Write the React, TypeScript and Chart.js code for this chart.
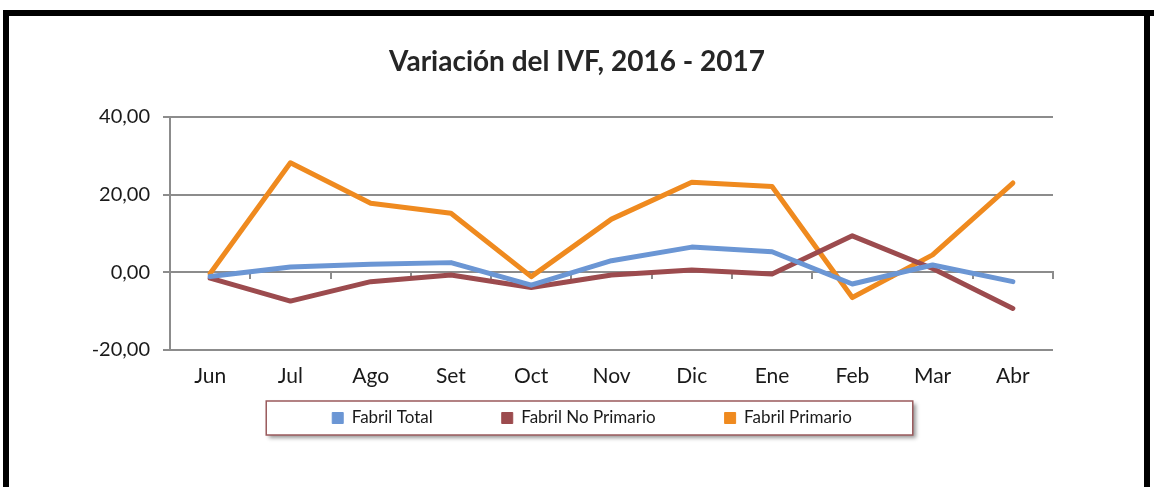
import React, { useEffect, useRef } from 'react';
import { Chart, registerables } from 'chart.js';

Chart.register(...registerables);

// ---- data ----
const categories = ['Jun', 'Jul', 'Ago', 'Set', 'Oct', 'Nov', 'Dic', 'Ene', 'Feb', 'Mar', 'Abr'];
const seriesNames = ['Fabril Total', 'Fabril No Primario', 'Fabril Primario'];
const fabrilTotal = [-1.1, 1.4, 2.1, 2.5, -3.3, 3.0, 6.5, 5.3, -3.0, 1.9, -2.4];
const fabrilNoPrimario = [-1.5, -7.4, -2.4, -0.7, -3.9, -0.7, 0.6, -0.4, 9.4, 1.0, -9.3];
const fabrilPrimario = [-0.3, 28.2, 17.8, 15.2, -1.1, 13.7, 23.2, 22.1, -6.5, 4.5, 23.0];
const yMin = -20;
const yMax = 40;
const yStep = 20;
const titleText = 'Variación del IVF, 2016 - 2017';

// ---- styles ----
const seriesColors = ['#6b96d4', '#9c4b4e', '#ef8a1f'];
const gridColor = '#8c8c8c';
const FONT = 'Lato, "Open Sans", sans-serif';
const LEGEND_FONT_SIZE = 17;
const LEGEND_PAD = 69;

const legendFrame = {
  id: 'legendFrame',
  afterLayout(chart: any) {
    const lg = chart.legend;
    if (!lg) return;
    const dy = 418 - (lg.top + LEGEND_PAD + LEGEND_FONT_SIZE / 2);
    const dx = 15;
    lg.top += dy;
    lg.bottom += dy;
    lg.left += dx;
    lg.right += dx;
  },
  beforeDraw(chart: any) {
    const lg = chart.legend;
    if (!lg || !lg.legendHitBoxes || !lg.legendHitBoxes.length) return;
    const hb = lg.legendHitBoxes;
    const first = hb[0];
    const last = hb[hb.length - 1];
    const mid = first.top + first.height / 2;
    const l = first.left - 66;
    const r = last.left + last.width + 61;
    const t = mid - 17;
    const b = mid + 17;
    const ctx = chart.ctx;
    ctx.save();
    ctx.shadowColor = 'rgba(0,0,0,0.4)';
    ctx.shadowOffsetX = 3;
    ctx.shadowOffsetY = 3;
    ctx.shadowBlur = 4;
    ctx.fillStyle = '#ffffff';
    ctx.fillRect(l, t, r - l, b - t);
    ctx.shadowColor = 'transparent';
    ctx.strokeStyle = '#9a5a5c';
    ctx.lineWidth = 1.5;
    ctx.strokeRect(l, t, r - l, b - t);
    ctx.restore();
  },
};

export default function App() {
  const canvasRef = useRef<HTMLCanvasElement | null>(null);

  useEffect(() => {
    document.body.style.margin = '0';
    const canvas = canvasRef.current;
    if (!canvas) return;
    const seriesData = [fabrilTotal, fabrilNoPrimario, fabrilPrimario];
    const chart = new Chart(canvas, {
      type: 'line',
      data: {
        labels: categories,
        datasets: seriesNames.map((name, i) => ({
          label: name,
          data: seriesData[i],
          borderColor: seriesColors[i],
          backgroundColor: seriesColors[i],
          borderWidth: 5,
          pointRadius: 0,
          pointHoverRadius: 0,
          tension: 0,
          fill: false,
          borderJoinStyle: 'round' as const,
          borderCapStyle: 'round' as const,
          xAxisID: 'x',
          yAxisID: 'y',
        })),
      },
      options: {
        responsive: false,
        animation: false,
        layout: { padding: 0 },
        plugins: {
          title: {
            display: true,
            text: titleText,
            color: '#262626',
            font: { family: FONT, size: 28, weight: 'bold', lineHeight: 1.2 },
            padding: { top: 45, bottom: 38.4 },
          },
          legend: {
            display: true,
            position: 'bottom',
            labels: {
              color: '#1a1a1a',
              font: { family: FONT, size: LEGEND_FONT_SIZE },
              boxWidth: 11,
              boxHeight: 11,
              padding: LEGEND_PAD,
              generateLabels: (ch: any) =>
                ch.data.datasets.map((ds: any, i: number) => ({
                  text: ds.label,
                  fillStyle: seriesColors[i],
                  strokeStyle: seriesColors[i],
                  lineWidth: 1,
                  hidden: false,
                  datasetIndex: i,
                  fontColor: '#1a1a1a',
                })),
            },
          },
          tooltip: { enabled: false },
        },
        scales: {
          x: {
            type: 'category',
            position: 'bottom',
            offset: true,
            grid: { display: false, drawTicks: false },
            border: { display: false },
            ticks: {
              color: '#1a1a1a',
              font: { family: FONT, size: 21 },
              padding: 14,
              maxRotation: 0,
              autoSkip: false,
            },
            afterFit: (s: any) => {
              s.height = 137 - (Math.max(11, LEGEND_FONT_SIZE) + LEGEND_PAD + 10);
            },
          },
          x2: {
            type: 'category',
            labels: categories,
            position: { y: 0 },
            offset: true,
            grid: {
              display: true,
              offset: true,
              drawOnChartArea: false,
              drawTicks: true,
              tickLength: 6,
              color: gridColor,
              lineWidth: 2,
            },
            border: { display: true, color: gridColor, width: 2 },
            ticks: { display: false },
          },
          y: {
            type: 'linear',
            position: 'left',
            min: yMin,
            max: yMax,
            grid: {
              color: gridColor,
              lineWidth: 2,
              drawTicks: true,
              tickLength: 7,
            },
            border: { display: true, color: gridColor, width: 2 },
            ticks: {
              stepSize: yStep,
              color: '#1a1a1a',
              font: { family: FONT, size: 20 },
              padding: 13,
              callback: (v: any) => Number(v).toFixed(2).replace('.', ','),
            },
            afterFit: (s: any) => {
              s.width = 170;
            },
          },
          yRight: {
            type: 'linear',
            position: 'right',
            display: true,
            grid: { display: false, drawTicks: false },
            border: { display: false },
            ticks: { display: false },
            afterFit: (s: any) => {
              s.width = 101;
            },
          },
        },
      } as any,
      plugins: [legendFrame],
    });
    return () => chart.destroy();
  }, []);

  return (
    <div style={{ position: 'absolute', left: 0, top: 0, width: 1154, height: 487, background: '#fff', overflow: 'hidden' }}>
      <canvas ref={canvasRef} width={1154} height={487} style={{ position: 'absolute', left: 0, top: 0, width: 1154, height: 487 }} />
      <div style={{ position: 'absolute', left: 3, top: 10, width: 1151, height: 6, background: '#000' }} />
      <div style={{ position: 'absolute', left: 3, top: 10, width: 6, height: 477, background: '#000' }} />
      <div style={{ position: 'absolute', left: 1144, top: 10, width: 6, height: 477, background: '#000' }} />
    </div>
  );
}
